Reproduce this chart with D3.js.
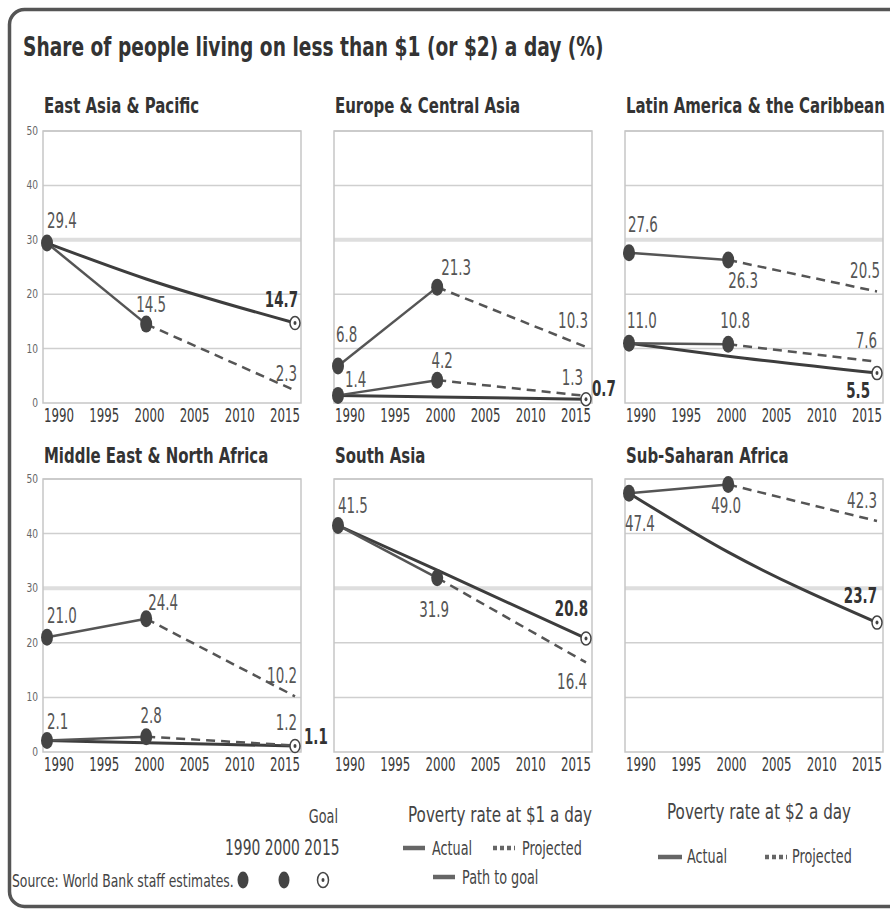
<!DOCTYPE html>
<html>
<head>
<meta charset="utf-8">
<script src="https://cdn.jsdelivr.net/npm/d3@7"></script>
<style>
  body { margin: 0; background: #fff; }
  text { font-family: "DejaVu Sans", Verdana, sans-serif; }
</style>
</head>
<body>
<script>
// 数据：各地区贫困率（%）
var regions = ["East Asia & Pacific", "Europe & Central Asia", "Latin America & the Caribbean",
               "Middle East & North Africa", "South Asia", "Sub-Saharan Africa"];
var years = [1990, 2000, 2015];
var rate1Actual = [[29.4, 14.5], [1.4, 4.2], [11.0, 10.8], [2.1, 2.8], [41.5, 31.9], [47.4, 49.0]];
var rate1Projected = [2.3, 1.3, 7.6, 1.2, 16.4, 42.3];
var rate2Actual = [null, [6.8, 21.3], [27.6, 26.3], [21.0, 24.4], null, null];
var rate2Projected = [null, 10.3, 20.5, 10.2, null, null];
var goal2015 = [14.7, 0.7, 5.5, 1.1, 20.8, 23.7];
var pathAt2000 = [22.8, 1.1, 8.6, 1.7, 33.3, 36.6]; // path to goal read at 2000
var yTicks = [0, 10, 20, 30, 40, 50];
var xTicks = [1990, 1995, 2000, 2005, 2010, 2015];

// 画布与布局
var w = 890, h = 913;
var colLeft = [43, 334, 625];
var boxW = 258;
var rowTop = [131, 479];
var rowBottom = [403, 752];

// 数值标注位置 [dx, dy, anchor]
var labelPos = [
  { a1_0: [0, -15, "start"], a1_1: [5, -12, "middle"], p1: [2, -9, "end"], goal: [3, -16, "end"] },
  { a2_0: [-2, -24, "start"], a2_1: [4, -12, "start"], p2: [2, -19, "end"],
    a1_0: [7, -8, "start"], a1_1: [5, -12, "middle"], p1: [-3, -11, "end"], goal: [6, -3, "start"] },
  { a2_0: [-1, -21, "start"], a2_1: [0, 28, "start"], p2: [3, -13, "end"],
    a1_0: [-2, -15, "start"], a1_1: [-8, -16, "start"], p1: [0, -14, "end"], goal: [-7, 25, "end"] },
  { a2_0: [0, -14, "start"], a2_1: [2, -9, "start"], p2: [2, -13, "end"],
    a1_0: [0, -12, "start"], a1_1: [5, -14, "middle"], p1: [2, -15, "end"], goal: [9, -2, "start"] },
  { a1_0: [0, -12, "start"], a1_1: [-3, 39, "middle"], p1: [1, 27, "end"], goal: [2, -22, "end"] },
  { a1_0: [-4, 38, "start"], a1_1: [-2, 29, "middle"], p1: [0, -13, "end"], goal: [0, -20, "end"] }
];

var svg = d3.select("body").append("svg").attr("width", w).attr("height", h);

// 横向压缩的文字
function addText(parent, x, y, str, o) {
  return parent.append("text")
    .attr("transform", "translate(" + x + "," + y + ") scale(" + (o.sx || 0.66) + ",1)")
    .attr("font-size", o.size)
    .attr("font-weight", o.bold ? "bold" : "normal")
    .attr("fill", o.color || "#444")
    .attr("text-anchor", o.anchor || "start")
    .text(str);
}

// 外框
svg.append("rect")
  .attr("x", 9.5).attr("y", 9.5).attr("width", 1000).attr("height", 897)
  .attr("rx", 15)
  .attr("fill", "#fff").attr("stroke", "#555").attr("stroke-width", 3.5);

addText(svg, 23, 56, "Share of people living on less than $1 (or $2) a day (%)",
  { size: 27, bold: true, sx: 0.69, color: "#333" });

var line = d3.line();

regions.forEach(function (name, i) {
  var col = i % 3, row = Math.floor(i / 3);
  var L = colLeft[col];
  var x = d3.scaleLinear().domain([1990, 2015]).range([L + 4, L + 252]);
  var xt = d3.scaleLinear().domain([1990, 2015]).range([L + 16, L + 242]);
  var y = d3.scaleLinear().domain([0, 50]).range([rowBottom[row], rowTop[row]]);
  var g = svg.append("g");

  line.x(function (d) { return x(d[0]); }).y(function (d) { return y(d[1]); });

  addText(g, L + 1, row === 0 ? 113 : 463, name, { size: 22, bold: true, sx: 0.68, color: "#333" });

  // 网格线
  g.selectAll(".grid").data(yTicks.slice(1)).enter().append("line")
    .attr("x1", L).attr("x2", L + boxW)
    .attr("y1", function (d) { return y(d); }).attr("y2", function (d) { return y(d); })
    .attr("stroke", function (d) { return d === 30 ? "#dedede" : "#cfcfcf"; })
    .attr("stroke-width", function (d) { return d === 30 ? 4 : 1.5; });
  g.append("rect")
    .attr("x", L).attr("y", y(50)).attr("width", boxW).attr("height", y(0) - y(50))
    .attr("fill", "none").attr("stroke", "#c6c6c6").attr("stroke-width", 1.5);

  // y 轴刻度（仅左列）
  if (col === 0) {
    yTicks.forEach(function (v) {
      addText(g, L - 5, y(v) + 4, v, { size: 13, sx: 0.7, color: "#666", anchor: "end" });
    });
  }
  // x 轴刻度
  xTicks.forEach(function (v) {
    addText(g, xt(v), rowBottom[row] + 19, v, { size: 19, sx: 0.62, color: "#3a3a3a", anchor: "middle" });
  });

  // 达标路径
  var pathPts = [[years[0], rate1Actual[i][0]], [years[1], pathAt2000[i]], [years[2], goal2015[i]]];
  g.append("path")
    .attr("d", d3.line().x(function (d) { return x(d[0]); }).y(function (d) { return y(d[1]); })
      .curve(d3.curveMonotoneX)(pathPts))
    .attr("fill", "none").attr("stroke", "#3d3d3d").attr("stroke-width", 3);

  var pts = [];
  function series(act, proj, key) {
    if (!act) return;
    var a = [[years[0], act[0]], [years[1], act[1]]];
    var p = [[years[1], act[1]], [years[2], proj]];
    g.append("path").attr("d", line(p)).attr("fill", "none")
      .attr("stroke", "#555").attr("stroke-width", 2.5).attr("stroke-dasharray", "9,6");
    g.append("path").attr("d", line(a)).attr("fill", "none")
      .attr("stroke", "#555").attr("stroke-width", 2.5);
    pts.push({ k: key + "_0", yr: years[0], v: act[0], dot: true });
    pts.push({ k: key + "_1", yr: years[1], v: act[1], dot: true });
    pts.push({ k: key === "a1" ? "p1" : "p2", yr: years[2], v: proj });
  }
  series(rate2Actual[i], rate2Projected[i], "a2");
  series(rate1Actual[i], rate1Projected[i], "a1");

  g.selectAll(".dot").data(pts.filter(function (d) { return d.dot; })).enter().append("ellipse")
    .attr("cx", function (d) { return x(d.yr); }).attr("cy", function (d) { return y(d.v); })
    .attr("rx", 6).attr("ry", 8.5).attr("fill", "#444");

  // 目标点
  g.append("ellipse").attr("cx", x(2015)).attr("cy", y(goal2015[i]))
    .attr("rx", 5).attr("ry", 6.5).attr("fill", "#fff").attr("stroke", "#444").attr("stroke-width", 1.5);
  g.append("ellipse").attr("cx", x(2015)).attr("cy", y(goal2015[i]))
    .attr("rx", 1.5).attr("ry", 2).attr("fill", "#444");
  pts.push({ k: "goal", yr: 2015, v: goal2015[i], bold: true });

  // 数值标注
  pts.forEach(function (d) {
    var lp = labelPos[i][d.k];
    if (!lp) return;
    addText(g, x(d.yr) + lp[0], y(d.v) + lp[1], d.v.toFixed(1),
      { size: 21, sx: 0.64, bold: d.bold, color: d.bold ? "#333" : "#555", anchor: lp[2] });
  });
});

// 图例
var lg = svg.append("g");
addText(lg, 338, 823, "Goal", { size: 20, sx: 0.64, anchor: "end" });
addText(lg, 225, 855, years.join(" "), { size: 21, sx: 0.66 });
addText(lg, 12, 887, "Source: World Bank staff estimates.", { size: 17, sx: 0.73 });
lg.append("ellipse").attr("cx", 243).attr("cy", 880).attr("rx", 5.5).attr("ry", 8.5).attr("fill", "#444");
lg.append("ellipse").attr("cx", 284).attr("cy", 880).attr("rx", 5.5).attr("ry", 8.5).attr("fill", "#444");
lg.append("ellipse").attr("cx", 323).attr("cy", 880).attr("rx", 5.5).attr("ry", 7.5)
  .attr("fill", "#fff").attr("stroke", "#444").attr("stroke-width", 1.5);
lg.append("ellipse").attr("cx", 323).attr("cy", 880).attr("rx", 1.5).attr("ry", 2).attr("fill", "#444");

function legendLine(x1, x2, yy, dash) {
  lg.append("line").attr("x1", x1).attr("x2", x2).attr("y1", yy).attr("y2", yy)
    .attr("stroke", "#666").attr("stroke-width", 4.5).attr("stroke-dasharray", dash ? "4,3" : null);
}
addText(lg, 408, 822, "Poverty rate at $1 a day", { size: 22, sx: 0.69 });
legendLine(403, 425, 848, false);
addText(lg, 432, 855, "Actual", { size: 20, sx: 0.64 });
legendLine(493, 515, 848, true);
addText(lg, 522, 855, "Projected", { size: 20, sx: 0.64 });
legendLine(433, 455, 877, false);
addText(lg, 462, 884, "Path to goal", { size: 20, sx: 0.64 });

addText(lg, 667, 819, "Poverty rate at $2 a day", { size: 22, sx: 0.69 });
legendLine(658, 682, 857, false);
addText(lg, 687, 863, "Actual", { size: 20, sx: 0.64 });
legendLine(765, 787, 857, true);
addText(lg, 792, 863, "Projected", { size: 20, sx: 0.64 });
</script>
</body>
</html>
